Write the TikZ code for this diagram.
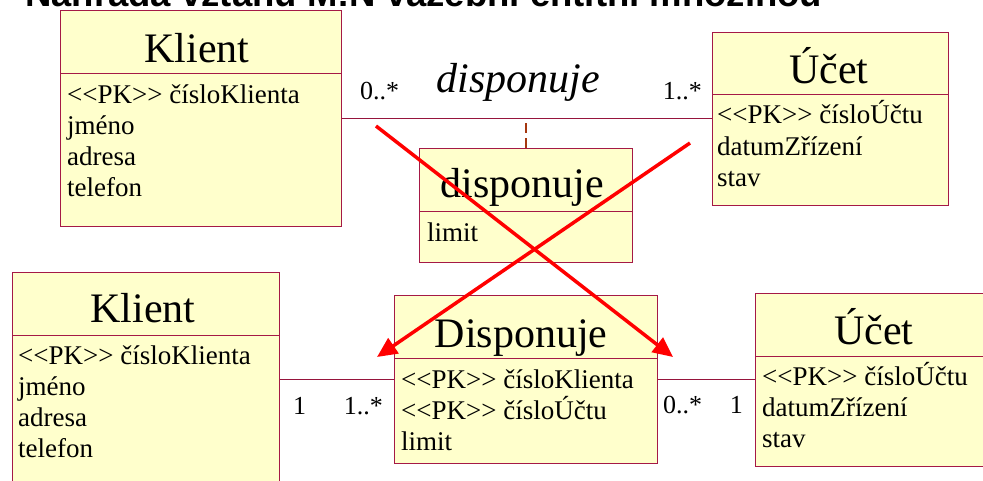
\documentclass[tikz,border=0pt]{standalone}
\usepackage{fontspec}
\setmainfont{Liberation Serif}
\newfontfamily\titlesans{Liberation Sans}
\usetikzlibrary{arrows.meta, calc}
\definecolor{umlfill}{RGB}{255,255,204}
\definecolor{umlborder}{RGB}{165,25,70}
\definecolor{umllink}{RGB}{150,20,60}
\definecolor{dashbrown}{RGB}{165,55,15}
\definecolor{crossred}{RGB}{255,0,0}
\newcommand{\pkmark}{<{}<PK>{}>}
\tikzset{
  classbox/.style={rectangle, draw=umlborder, fill=umlfill, line width=1pt,
    inner sep=0pt, anchor=north west},
  divider/.style={draw=umlborder, line width=1pt},
  classname/.style={anchor=base, inner sep=0pt, font=\fontsize{42}{44}\selectfont},
  attr/.style={anchor=base west, inner sep=0pt, font=\fontsize{27}{29}\selectfont},
  multl/.style={anchor=base west, inner sep=0pt, font=\fontsize{26}{28}\selectfont},
  multr/.style={anchor=base east, inner sep=0pt, font=\fontsize{26}{28}\selectfont},
  assoc/.style={draw=umllink, line width=1pt},
  assocdash/.style={draw=dashbrown, line width=1.3pt, dash pattern=on 10pt off 5pt},
  crossarrow/.style={-{Triangle[length=20pt, width=18pt]}, draw=crossred,
    fill=crossred, line width=3.5pt}
}

\begin{document}
\begin{tikzpicture}[x=1pt, y=-1pt]
  \useasboundingbox (0,0) rectangle (983,481);
  \clip (0,0) rectangle (983,481);

  % Title (cut by the top edge)
  \node[anchor=base west, inner sep=0pt, font=\titlesans\bfseries\fontsize{36.5}{38}\selectfont]
    (title) at (25,7) {Náhrada vztahu M:N vazební entitní množinou};

  % Upper part: M:N association with attribute class
  \node[classbox, minimum width=281pt, minimum height=216pt] (klientA) at (60,10) {};
  \draw[divider] (60,74) -- (341,74);
  \node[classname] (klientAname) at (197,63) {Klient};
  \node[attr] (klientA1) at (67,104) {\pkmark\ čísloKlienta};
  \node[attr] (klientA2) at (67,135) {jméno};
  \node[attr] (klientA3) at (67,166) {adresa};
  \node[attr] (klientA4) at (67,197) {telefon};

  \node[classbox, minimum width=236pt, minimum height=173pt] (ucetA) at (712,32) {};
  \draw[divider] (712,95) -- (948,95);
  \node[classname] (ucetAname) at (829,84) {Účet};
  \node[attr] (ucetA1) at (717,124) {\pkmark\ čísloÚčtu};
  \node[attr] (ucetA2) at (717,156) {datumZřízení};
  \node[attr] (ucetA3) at (717,187) {stav};

  \node[classbox, minimum width=213pt, minimum height=114pt] (disA) at (419,148) {};
  \draw[divider] (419,212) -- (632,212);
  \node[classname] (disAname) at (522,198) {disponuje};
  \node[attr] (disA1) at (427,242) {limit};

  \draw[assoc] (klientA.east) -- (klientA.east -| ucetA.west);
  \draw[assocdash] (disA.north) -- (disA.north |- klientA.east);
  \node[multl] (multA1) at (360,100) {0..*};
  \node[multr] (multA2) at (702,100) {1..*};
  \node[anchor=base, inner sep=0pt, font=\itshape\fontsize{42}{44}\selectfont]
    (assocname) at (518,93) {disponuje};

  % Lower part: link entity
  \node[classbox, minimum width=267pt, minimum height=214pt] (klientB) at (12,272) {};
  \draw[divider] (12,335) -- (279,335);
  \node[classname] (klientBname) at (143,323) {Klient};
  \node[attr] (klientB1) at (18,364) {\pkmark\ čísloKlienta};
  \node[attr] (klientB2) at (18,395) {jméno};
  \node[attr] (klientB3) at (18,426) {adresa};
  \node[attr] (klientB4) at (18,457) {telefon};

  \node[classbox, minimum width=263pt, minimum height=168pt] (disB) at (394,295) {};
  \draw[divider] (394,358) -- (657,358);
  \node[classname] (disBname) at (521,347) {Disponuje};
  \node[attr] (disB1) at (401,388) {\pkmark\ čísloKlienta};
  \node[attr] (disB2) at (401,419) {\pkmark\ čísloÚčtu};
  \node[attr] (disB3) at (401,450) {limit};

  \node[classbox, minimum width=240pt, minimum height=173pt] (ucetB) at (755,293) {};
  \draw[divider] (755,356) -- (995,356);
  \node[classname] (ucetBname) at (874,344) {Účet};
  \node[attr] (ucetB1) at (762,385) {\pkmark\ čísloÚčtu};
  \node[attr] (ucetB2) at (762,416) {datumZřízení};
  \node[attr] (ucetB3) at (762,447) {stav};

  \draw[assoc] (klientB.east) -- (klientB.east -| disB.west);
  \draw[assoc] (disB.east) -- (disB.east -| ucetB.west);
  \node[multl] (multB1) at (293,414) {1};
  \node[multr] (multB2) at (383,414) {1..*};
  \node[multl] (multB3) at (663,413) {0..*};
  \node[multr] (multB4) at (743,413) {1};

  % Red cross with arrows
  \coordinate (crossA) at (376,126);
  \coordinate (crossAend) at (673,357);
  \coordinate (crossB) at (690,143);
  \coordinate (crossBend) at (377,357);
  \draw[crossarrow] (crossA) -- (crossAend);
  \draw[crossarrow] (crossB) -- (crossBend);
\end{tikzpicture}
\end{document}
